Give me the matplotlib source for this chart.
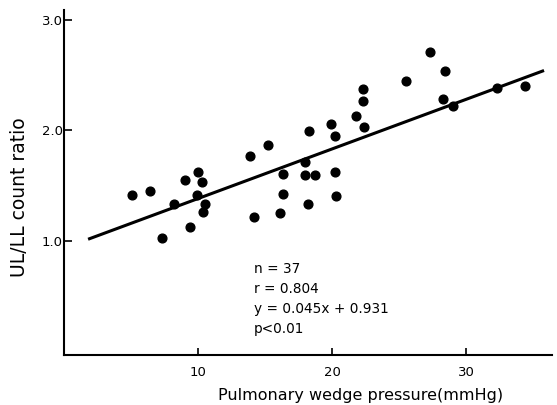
import matplotlib
matplotlib.use('Agg')
import matplotlib.pyplot as plt
import numpy as np

# pulmonary wedge pressure (mmHg) vs UL/LL count ratio
pwp = [5.1, 6.4, 9.0, 10.0, 10.3, 8.2, 9.9, 10.5, 10.4, 9.4, 7.3,
       13.9, 15.2, 18.3, 19.9, 20.2, 21.8, 22.4, 18.0, 16.3, 18.0, 18.7,
       20.2, 16.3, 20.3, 18.2, 16.1, 14.2, 25.5, 27.3, 28.4, 28.3, 29.0,
       32.3, 34.4, 22.3, 22.3]
ratio = [1.41, 1.45, 1.55, 1.62, 1.53, 1.33, 1.41, 1.33, 1.26, 1.12, 1.02,
         1.77, 1.87, 1.99, 2.06, 1.95, 2.13, 2.03, 1.71, 1.60, 1.59, 1.59,
         1.62, 1.42, 1.40, 1.33, 1.25, 1.21, 2.45, 2.71, 2.54, 2.28, 2.22,
         2.38, 2.40, 2.37, 2.27]

slope = 0.045
intercept = 0.931
fit_range = [1.9, 35.7]

xticks = [10, 20, 30]
yticks = [1.0, 2.0, 3.0]
ytick_labels = ['1.0', '2.0', '3.0']

stats_text = 'n = 37\nr = 0.804\ny = 0.045x + 0.931\np<0.01'

plt.rcParams['font.family'] = ['DejaVu Sans']

fig = plt.figure(figsize=(5.57, 4.05), dpi=100)
ax = fig.add_axes([0.115, 0.123, 0.876, 0.852])

ax.plot(pwp, ratio, 'o', color='black', markersize=6.3, linestyle='none')

xf = np.array(fit_range)
ax.plot(xf, slope * xf + intercept, color='black', linewidth=2.2)

ax.set_xlim(0, 36.4)
ax.set_ylim(-0.04, 3.09)

for s in ['top', 'right']:
    ax.spines[s].set_visible(False)
for s in ['left', 'bottom']:
    ax.spines[s].set_linewidth(1.5)

ax.set_xticks(xticks)
ax.set_yticks(yticks)
ax.set_yticklabels(ytick_labels)
ax.tick_params(axis='x', direction='in', length=5, width=1.2, pad=8, labelsize=9.5)
ax.tick_params(axis='y', direction='in', length=6, width=1.2, pad=1, labelsize=9.5)

ax.set_xlabel('Pulmonary wedge pressure(mmHg)', fontsize=11.5)
ax.xaxis.set_label_coords(0.607, -0.095)
ax.set_ylabel('UL/LL count ratio', fontsize=13.5)
ax.yaxis.set_label_coords(-0.072, 0.458)

# stats block, top-left corner placed in figure coords
fig.text(254 / 557, 1 - 262 / 405, stats_text, fontsize=9.8,
         va='top', ha='left', linespacing=1.55)

fig.savefig('out.png', dpi=100)
